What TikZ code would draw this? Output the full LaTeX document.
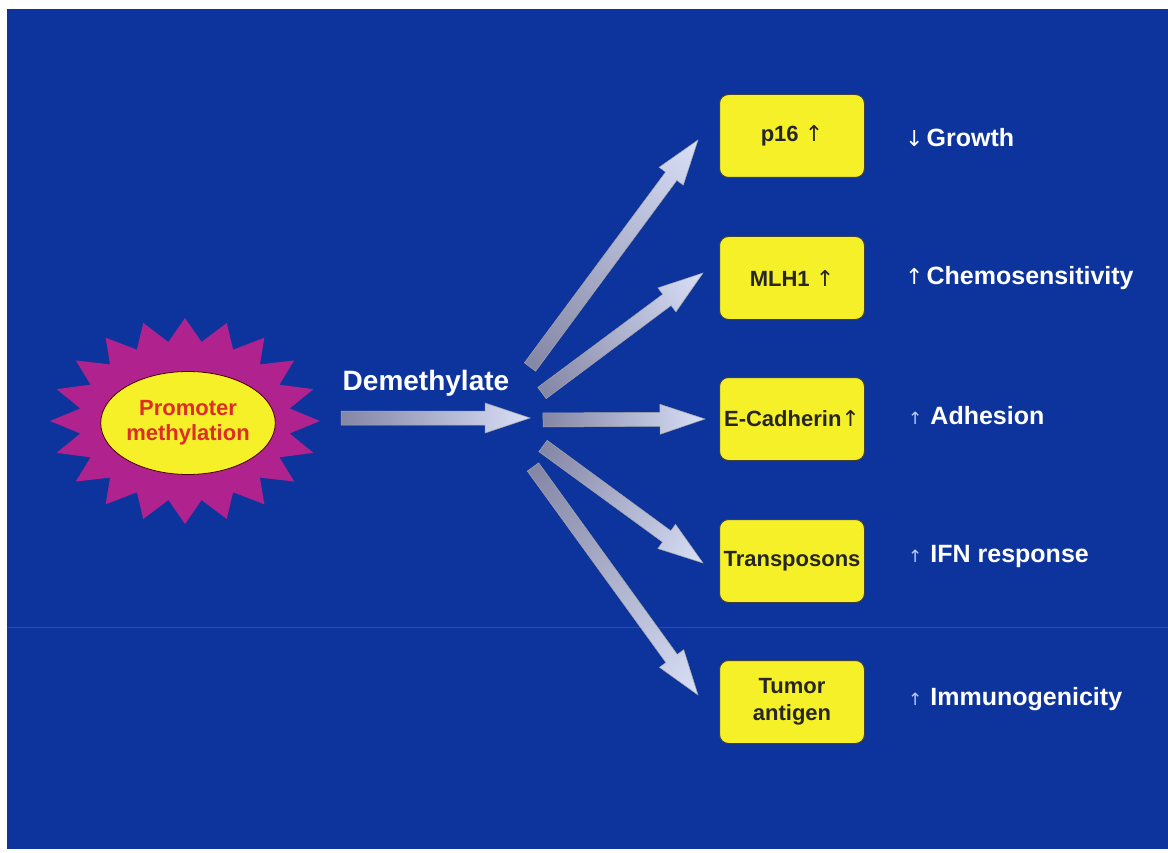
\documentclass[tikz,border=0pt]{standalone}
\usepackage{fontspec}
\setmainfont{Liberation Sans}
\newfontfamily\arrfont{DejaVu Sans}
\usetikzlibrary{shapes.geometric,calc}
\definecolor{bgblue}{RGB}{13,52,156}
\definecolor{seamblue}{RGB}{38,78,172}
\definecolor{starmag}{RGB}{176,34,142}
\definecolor{boxyellow}{RGB}{246,240,40}
\definecolor{promred}{RGB}{222,44,40}
\definecolor{arrdark}{RGB}{132,134,165}
\definecolor{arrlight}{RGB}{216,223,246}
\definecolor{smallarr}{RGB}{185,205,255}
\tikzset{
  gbox/.style={draw=black!75, line width=1pt, fill=boxyellow, rounded corners=9pt,
    minimum width=145pt, minimum height=83pt, inner sep=0pt, align=center,
    font=\fontsize{22}{27}\selectfont\bfseries, text=black!85},
  lbl/.style={anchor=west, text=white, inner sep=0pt,
    font=\fontsize{25}{28}\selectfont\bfseries},
  fatarr/.style={left color=arrdark, right color=arrlight, draw=black!35, line width=0.5pt}
}
\newcommand\fatarrow[2]{%
  \path let \p1=($(#2)-(#1)$), \n1={atan2(\y1,\x1)}, \n2={veclen(\x1,\y1)} in
    \pgfextra{\xdef\farang{\n1}\xdef\farlen{\n2}};
  \begin{scope}[transform canvas={shift={(#1)},rotate=\farang}]
    \shade[fatarr] (0,-7) -- ({\farlen-45},-7) -- ({\farlen-45},-15) -- (\farlen,0)
      -- ({\farlen-45},15) -- ({\farlen-45},7) -- (0,7) -- cycle;
  \end{scope}}
\begin{document}
\begin{tikzpicture}[x=1pt,y=-1pt]
\useasboundingbox (0,0) rectangle (1168,853);
\fill[white] (0,0) rectangle (1168,853);
\fill[bgblue] (7,9) rectangle (1168,849);
\draw[seamblue, line width=1pt] (7,627) -- (1168,627);

% starburst
\fill[starmag] plot[samples at={0,...,39}, variable=\i]
  ({185+(mod(\i,2)==0?135:106)*cos(\i*9)}, {421+(mod(\i,2)==0?103:80)*sin(\i*9)}) -- cycle;
\node[ellipse, draw=black!70!red, line width=0.8pt, fill=boxyellow, minimum width=147pt,
  minimum height=103pt, inner sep=0pt, align=center, text=promred,
  font=\fontsize{22}{25}\selectfont\bfseries] (prom) at (188,423) {Promoter\\methylation};

\node[font=\fontsize{28}{30}\selectfont\bfseries, text=white, inner sep=0pt] (dem) at (426,383) {Demethylate};

% boxes
\node[gbox] (p16) at (792,136) {p16 {\arrfont\mdseries↑}};
\node[gbox] (mlh) at (792,278) {MLH1 {\arrfont\mdseries↑}};
\node[gbox] (ecad) at (792,419) {E-Cadherin{\arrfont\mdseries↑}};
\node[gbox] (trans) at (792,561) {Transposons};
\node[gbox] (tum) at (792,702) {Tumor\\antigen};

% labels
\node[lbl] (l1) at (905,138) {{\arrfont\mdseries\fontsize{22}{24}\selectfont↓}\hspace{3pt}Growth};
\node[lbl] (l2) at (905,278) {{\arrfont\mdseries\fontsize{22}{24}\selectfont↑}\hspace{3pt}Chemosensitivity};
\node[lbl] (l3) at (908,416) {{\arrfont\mdseries\fontsize{17}{20}\selectfont\color{smallarr}↑}\hspace{8pt}Adhesion};
\node[lbl] (l4) at (908,556) {{\arrfont\mdseries\fontsize{17}{20}\selectfont\color{smallarr}↑}\hspace{8pt}IFN response};
\node[lbl] (l5) at (908,699) {{\arrfont\mdseries\fontsize{17}{20}\selectfont\color{smallarr}↑}\hspace{8pt}Immunogenicity};

% arrow end points
\coordinate (m0) at (341,418); \coordinate (m1) at (530,418);
\coordinate (t1) at (530,367); \coordinate (h1) at (698,140);
\coordinate (t2) at (542,393); \coordinate (h2) at (703,273);
\coordinate (t3) at (543,420); \coordinate (h3) at (705,419);
\coordinate (t4) at (543,446); \coordinate (h4) at (703,563);
\coordinate (t5) at (533,467); \coordinate (h5) at (698,695);

\fatarrow{m0}{m1}
\fatarrow{t1}{h1}
\fatarrow{t2}{h2}
\fatarrow{t3}{h3}
\fatarrow{t4}{h4}
\fatarrow{t5}{h5}
\end{tikzpicture}
\end{document}
